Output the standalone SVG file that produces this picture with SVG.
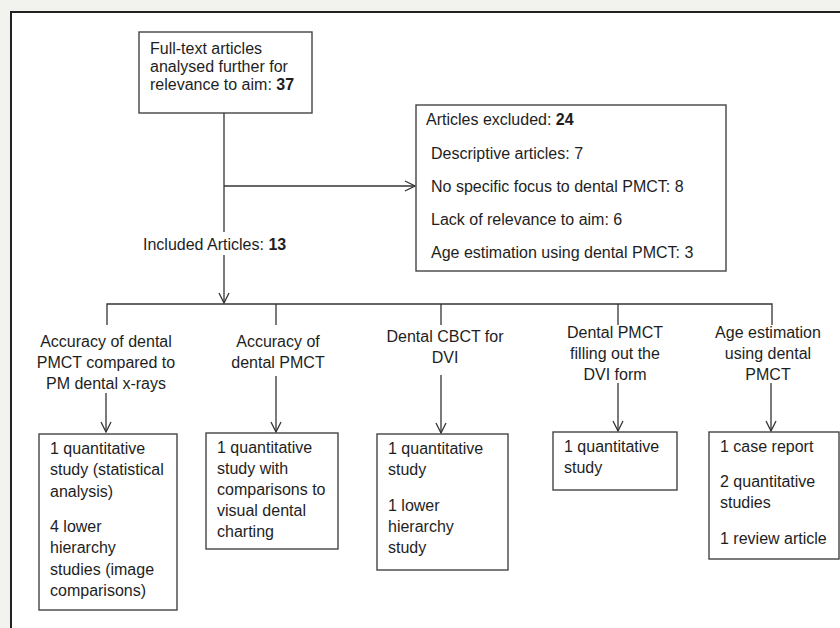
<svg xmlns="http://www.w3.org/2000/svg" width="840" height="628" viewBox="0 0 840 628">
<defs>
<style>
text{font-family:"Liberation Sans",Arial,sans-serif;font-size:16px;fill:#1e1e1e}
.c{text-anchor:middle}
.b{font-weight:bold}
.box{fill:#fff;stroke:#444;stroke-width:1.4}
.ln{fill:none;stroke:#333;stroke-width:1.3}
</style>
<marker id="ah" viewBox="0 0 12 12" refX="11" refY="6" markerWidth="12" markerHeight="12" markerUnits="userSpaceOnUse" orient="auto">
<path d="M1,1 L11,6 L1,11" fill="none" stroke="#333" stroke-width="1.3"/>
</marker>
</defs>
<rect x="0" y="0" width="840" height="628" fill="#f2f2ee"/>
<rect x="11" y="12" width="840" height="630" fill="#fff" stroke="#222" stroke-width="2"/>

<g id="connectors">
<path class="ln" d="M224,113 V232"/>
<path class="ln" d="M224,255 V303" marker-end="url(#ah)"/>
<path class="ln" d="M224,186 H415" marker-end="url(#ah)"/>
<path class="ln" d="M107,325 V304 H772 V325"/>
<path class="ln" d="M276,304 V325"/>
<path class="ln" d="M441,304 V325"/>
<path class="ln" d="M618,304 V325"/>
<path class="ln" d="M106,393 V432" marker-end="url(#ah)"/>
<path class="ln" d="M276,376 V432" marker-end="url(#ah)"/>
<path class="ln" d="M441,375 V433" marker-end="url(#ah)"/>
<path class="ln" d="M618,383 V431" marker-end="url(#ah)"/>
<path class="ln" d="M771,383 V431" marker-end="url(#ah)"/>
</g>

<g id="n-fulltext">
<rect class="box" x="139" y="32" width="173" height="81"/>
<text x="150" y="54">Full-text articles</text>
<text x="150" y="72">analysed further for</text>
<text x="150" y="90">relevance to aim: <tspan class="b">37</tspan></text>
</g>

<g id="n-included">
<text x="143" y="250">Included Articles: <tspan class="b">13</tspan></text>
</g>

<g id="n-excluded">
<rect class="box" x="416" y="105" width="310" height="166"/>
<text x="426" y="125">Articles excluded: <tspan class="b">24</tspan></text>
<text x="431" y="159">Descriptive articles: 7</text>
<text x="431" y="192">No specific focus to dental PMCT: 8</text>
<text x="431" y="225">Lack of relevance to aim: 6</text>
<text x="431" y="258">Age estimation using dental PMCT: 3</text>
</g>

<g id="h-col1">
<text class="c" x="106" y="347">Accuracy of dental</text>
<text class="c" x="106" y="368">PMCT compared to</text>
<text class="c" x="106" y="389">PM dental x-rays</text>
</g>
<g id="h-col2">
<text class="c" x="278" y="347">Accuracy of</text>
<text class="c" x="278" y="368">dental PMCT</text>
</g>
<g id="h-col3">
<text class="c" x="445" y="342">Dental CBCT for</text>
<text class="c" x="445" y="363">DVI</text>
</g>
<g id="h-col4">
<text class="c" x="615" y="338">Dental PMCT</text>
<text class="c" x="615" y="359">filling out the</text>
<text class="c" x="615" y="380">DVI form</text>
</g>
<g id="h-col5">
<text class="c" x="768" y="338">Age estimation</text>
<text class="c" x="768" y="359">using dental</text>
<text class="c" x="768" y="380">PMCT</text>
</g>

<g id="b-col1">
<rect class="box" x="39" y="434" width="138" height="176"/>
<text x="50" y="454">1 quantitative</text>
<text x="50" y="475">study (statistical</text>
<text x="50" y="497">analysis)</text>
<text x="50" y="532">4 lower</text>
<text x="50" y="553">hierarchy</text>
<text x="50" y="575">studies (image</text>
<text x="50" y="596">comparisons)</text>
</g>
<g id="b-col2">
<rect class="box" x="206" y="433" width="132" height="116"/>
<text x="217" y="453">1 quantitative</text>
<text x="217" y="474">study with</text>
<text x="217" y="495">comparisons to</text>
<text x="217" y="516">visual dental</text>
<text x="217" y="537">charting</text>
</g>
<g id="b-col3">
<rect class="box" x="377" y="434" width="131" height="136"/>
<text x="388" y="454">1 quantitative</text>
<text x="388" y="475">study</text>
<text x="388" y="511">1 lower</text>
<text x="388" y="532">hierarchy</text>
<text x="388" y="553">study</text>
</g>
<g id="b-col4">
<rect class="box" x="553" y="432" width="124" height="58"/>
<text x="564" y="452">1 quantitative</text>
<text x="564" y="473">study</text>
</g>
<g id="b-col5">
<rect class="box" x="709" y="432" width="130" height="127"/>
<text x="720" y="452">1 case report</text>
<text x="720" y="487">2 quantitative</text>
<text x="720" y="508">studies</text>
<text x="720" y="544">1 review article</text>
</g>
</svg>
